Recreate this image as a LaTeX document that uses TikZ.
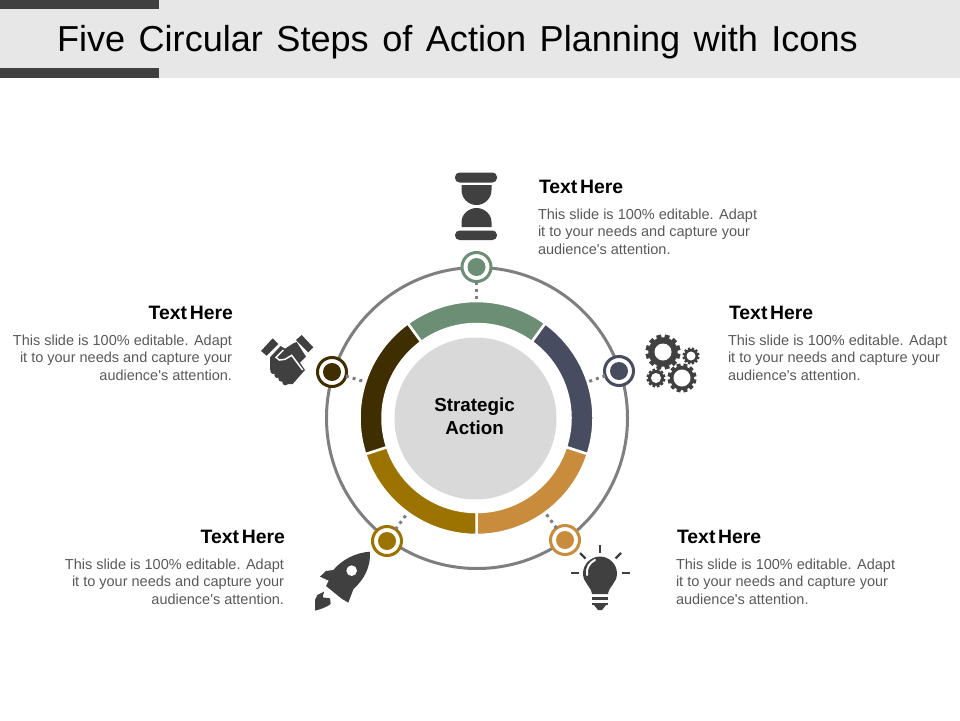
\documentclass[tikz,border=0pt]{standalone}
\usepackage{fontspec}
\usetikzlibrary{calc}
\setmainfont{Liberation Sans}
\definecolor{headbar}{HTML}{E7E7E7}
\definecolor{darkbar}{HTML}{404040}
\definecolor{ringgray}{HTML}{7F7F7F}
\definecolor{hubgray}{HTML}{D9D9D9}
\definecolor{bodygray}{HTML}{595959}
\definecolor{stepgreen}{HTML}{6B8E75}
\definecolor{stepnavy}{HTML}{474C60}
\definecolor{steporange}{HTML}{C98C3D}
\definecolor{stepgold}{HTML}{9C7300}
\definecolor{stepbrown}{HTML}{3F2E00}
\tikzset{
  every node/.style={inner sep=0pt,outer sep=0pt},
  stepring/.style={circle,draw=#1,fill=white,line width=3pt,minimum size=29pt},
  stepdot/.style={circle,fill=#1,minimum size=18pt},
  segment/.style={fill=#1,draw=white,line width=2.5pt},
  dotline/.style={draw=ringgray,line width=3pt,dash pattern=on 3pt off 4pt},
  headleft/.style={anchor=west,font=\fontsize{19.4}{21}\bfseries\selectfont},
  headright/.style={anchor=east,font=\fontsize{19.4}{21}\bfseries\selectfont},
  bodyleft/.style={anchor=north west,align=left,text=bodygray,font=\fontsize{14.5}{17.6}\selectfont},
  bodyright/.style={anchor=north east,align=right,text=bodygray,font=\fontsize{14.5}{17.6}\selectfont},
  icon/.style={fill=darkbar,draw=none}
}
\newcommand{\headtext}{\spaceskip=2.7pt\relax Text Here}
\newcommand{\titletext}{\spaceskip=13.5pt\relax Five Circular Steps of Action Planning with Icons}
\newcommand{\bodylines}{This slide is 100\% editable.\hspace{5.5pt}Adapt\\it to your needs and capture your\\audience\textquotesingle s attention.}
\newcommand{\ringseg}[3]{\draw[segment=#3] ($(hubc)+(#1:117)$) arc[start angle=#1,end angle=#2,radius=117] -- ($(hubc)+(#2:94)$) arc[start angle=#2,end angle=#1,radius=94] -- cycle;}
\newcommand{\gearicon}[4]{
  \foreach \a in {0,30,...,150}
    \fill[darkbar,shift={(#1,#2)},rotate=\a+15] (-#3*0.14,-#3) rectangle (#3*0.14,#3);
  \fill[darkbar] (#1,#2) circle[radius=#3*0.84];
  \fill[white] (#1,#2) circle[radius=#4];
}
\begin{document}
\begin{tikzpicture}[x=1pt,y=-1pt]
  \useasboundingbox (0,0) rectangle (960,720);
  \fill[headbar] (0,0) rectangle (960,78);
  \fill[darkbar] (0,0) rectangle (159,9);
  \fill[darkbar] (0,68) rectangle (159,78);
  \node[anchor=west,font=\fontsize{36.1}{40}\selectfont] (title) at (57,42) {\titletext};

  \draw[ringgray,line width=3pt] (477,418) circle[radius=150.5];
  \node[circle,fill=hubgray,minimum size=162pt] (hub) at (475.5,418.5) {};
  \node[align=center,font=\fontsize{18.8}{22.5}\bfseries\selectfont] (hublabel) at (474.5,416.5) {Strategic\\Action};
  \coordinate (hubc) at (476.5,418);

  \ringseg{234}{306}{stepgreen}
  \ringseg{306}{378}{stepnavy}
  \ringseg{18}{90}{steporange}
  \ringseg{90}{162}{stepgold}
  \ringseg{162}{234}{stepbrown}

  \node[stepring=stepgreen] (step1) at (476.5,267) {};
  \node[stepring=stepnavy] (step2) at (619,371) {};
  \node[stepring=steporange] (step3) at (565,540) {};
  \node[stepring=stepgold] (step4) at (387,541) {};
  \node[stepring=stepbrown] (step5) at (332,372) {};
  \node[stepdot=stepgreen] (dot1) at (step1) {};
  \node[stepdot=stepnavy] (dot2) at (step2) {};
  \node[stepdot=steporange] (dot3) at (step3) {};
  \node[stepdot=stepgold] (dot4) at (step4) {};
  \node[stepdot=stepbrown] (dot5) at (step5) {};

  \coordinate (seg1) at ($(hubc)+(270:118)$);
  \coordinate (seg2) at ($(hubc)+(342:118)$);
  \coordinate (seg3) at ($(hubc)+(54:118)$);
  \coordinate (seg4) at ($(hubc)+(126:118)$);
  \coordinate (seg5) at ($(hubc)+(198:118)$);
  \draw[dotline] (step1) -- (seg1);
  \draw[dotline] (step2) -- (seg2);
  \draw[dotline] (step3) -- (seg3);
  \draw[dotline] (step4) -- (seg4);
  \draw[dotline] (step5) -- (seg5);

  \node[headleft] (head1) at (539,187) {\headtext};
  \node[bodyleft] (body1) at (538,208.5) {\bodylines};
  \node[headleft] (head2) at (729,313) {\headtext};
  \node[bodyleft] (body2) at (728,334.5) {\bodylines};
  \node[headleft] (head3) at (677,537) {\headtext};
  \node[bodyleft] (body3) at (676,558.5) {\bodylines};
  \node[headright] (head4) at (285,537) {\headtext};
  \node[bodyright] (body4) at (284,558.5) {\bodylines};
  \node[headright] (head5) at (233,313) {\headtext};
  \node[bodyright] (body5) at (232,334.5) {\bodylines};

  \fill[icon,rounded corners=4.5pt] (455,172.5) rectangle (497,182.5);
  \fill[icon,rounded corners=4.5pt] (455,230.5) rectangle (497,240);
  \fill[icon] (461.5,185) -- (491.5,185) -- (491.5,190) .. controls (491.5,199) and (484,205) .. (476.5,205) .. controls (469,205) and (461.5,199) .. (461.5,190) -- cycle;
  \fill[icon] (461.5,227) -- (491.5,227) -- (491.5,222) .. controls (491.5,214) and (484,208) .. (476.5,208) .. controls (469,208) and (461.5,214) .. (461.5,222) -- cycle;

  \gearicon{663}{352}{17.5}{8.5}
  \gearicon{691}{356}{8.5}{4.5}
  \gearicon{656}{378}{9.5}{5}
  \gearicon{682}{378}{14.5}{8.5}

  \begin{scope}[line width=2.2pt,draw=darkbar]
    \draw (571,573) -- (579,573);
    \draw (622,573) -- (630,573);
    \draw (600,545) -- (600,553);
    \draw (580,553) -- (585.5,558.5);
    \draw (621,553) -- (615.5,558.5);
  \end{scope}
  \fill[icon] (592,594) .. controls (591,586) and (583,583) .. (583,573.5) .. controls (583,564) and (591,556.5) .. (600,556.5) .. controls (609,556.5) and (617,564) .. (617,573.5) .. controls (617,583) and (609,586) .. (608,594) -- cycle;
  \draw[white,line width=2pt,line cap=round] (587,575) .. controls (586,568) and (589.5,562.5) .. (595,560);
  \fill[icon] (592,597) rectangle (608,600);
  \fill[icon] (592,602.5) rectangle (608,605);
  \fill[icon] (594,605) -- (606,605) -- (602,610) -- (598,610) -- cycle;

  \begin{scope}[shift={(300,510)},scale=1/3]
    \fill[icon] (210,125) .. controls (165,128) and (125,150) .. (100,180) -- (78,183) -- (60,200) -- (86,212) -- (78,228) -- (125,266) -- (145,278) -- (160,238) .. controls (195,205) and (212,170) .. (210,125) -- cycle;
    \fill[white] (155,182) circle[radius=16];
    \fill[icon] (45,302) -- (45,270) -- (52,255) -- (72,245) -- (68,262) -- (90,265) -- (92,282) .. controls (80,292) and (60,298) .. (45,302) -- cycle;
  \end{scope}

  \begin{scope}[shift={(250,320)},scale=1/3]
    \fill[icon] (33,93) -- (68,55) -- (85,72) -- (50,107) -- cycle;
    \fill[icon] (155,45) -- (190,82) -- (175,97) -- (138,60) -- cycle;
    \fill[icon] (60,112) -- (92,78) -- (105,86) -- (130,70) -- (140,66) -- (168,110) -- (150,128) -- (165,150) -- (128,192) -- (105,192) -- (60,148) -- cycle;
    \draw[white,line width=1.5pt] (100,90) -- (78,112) -- (88,120) -- (105,118) -- (125,106) -- (158,150);
    \fill[darkbar] (70,153) circle[radius=9];
    \fill[darkbar] (82,165) circle[radius=9];
    \fill[darkbar] (94,176) circle[radius=9];
    \fill[darkbar] (106,187) circle[radius=9];
  \end{scope}
\end{tikzpicture}
\end{document}
